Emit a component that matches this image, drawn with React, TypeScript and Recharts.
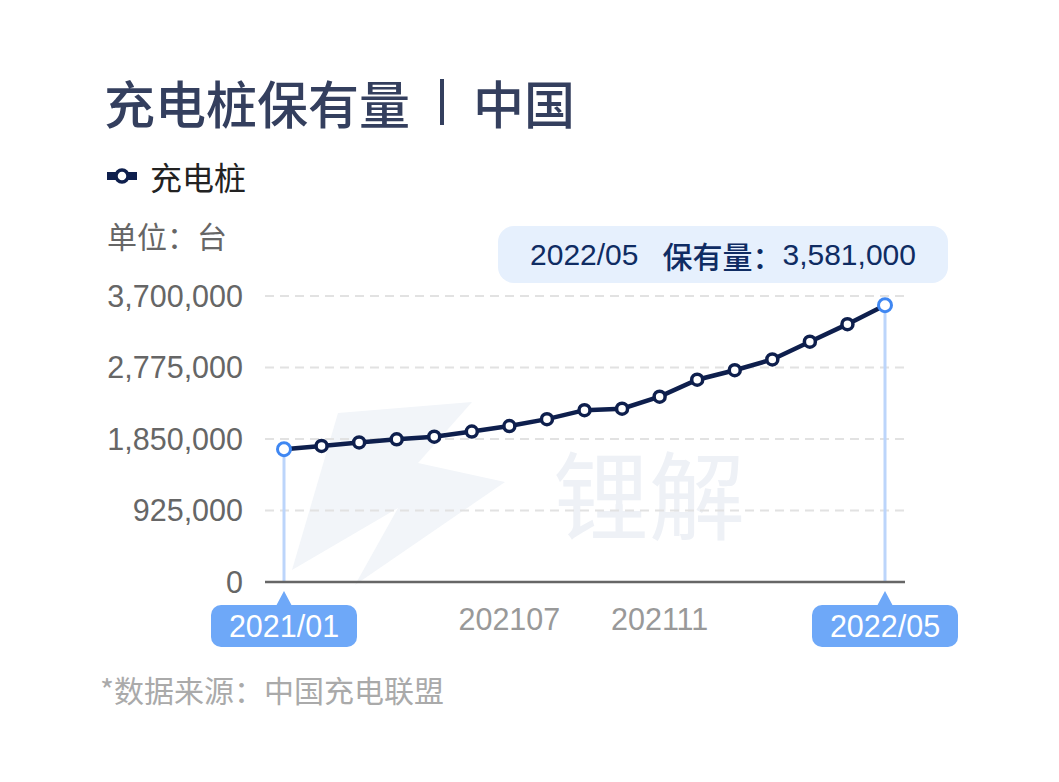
import React from 'react';
import { LineChart, Line, XAxis, YAxis, CartesianGrid, ReferenceLine } from 'recharts';

const months = [
  '2021/01', '2021/02', '2021/03', '2021/04', '2021/05', '2021/06', '2021/07', '2021/08', '2021/09',
  '2021/10', '2021/11', '2021/12', '2022/01', '2022/02', '2022/03', '2022/04', '2022/05',
];
const pileCounts = [
  1718000, 1760000, 1805000, 1846000, 1880000, 1947000, 2018000, 2107000, 2223000,
  2242000, 2398000, 2617000, 2740000, 2879000, 3109000, 3336000, 3581000,
];
const yTicks = [0, 925000, 1850000, 2775000, 3700000];
const plainTickLabels: Record<string, string> = { '2021/07': '202107', '2021/11': '202111' };
const badgeTicks = ['2021/01', '2022/05'];

const data = months.map((m, i) => ({ month: m, value: pileCounts[i] }));
const last = data[data.length - 1];
const first = data[0];

const FONT = '"Noto Sans CJK SC", "Noto Sans", sans-serif';
const NUM_FONT = '"Liberation Sans", "Noto Sans CJK SC", sans-serif';
const NAVY = '#0e1f4d';
const BLUE = '#3f87f2';
const BADGE = '#6ea8f8';

const fmt = (v: number) => v.toLocaleString('en-US');

const XTick = (props: any) => {
  const { x, y, payload } = props;
  const v = payload.value as string;
  if (badgeTicks.includes(v)) {
    const w = 146;
    return (
      <g>
        <path d={`M ${x - 8} ${y + 24} L ${x} ${y + 9} L ${x + 8} ${y + 24} Z`} fill={BADGE} />
        <rect x={x - w / 2} y={y + 23} width={w} height={42} rx={10} fill={BADGE} />
        <text x={x} y={y + 55} textAnchor="middle" fill="#fff" fontSize={30.5} fontFamily={NUM_FONT}>
          {v}
        </text>
      </g>
    );
  }
  if (plainTickLabels[v]) {
    return (
      <text x={x} y={y + 48} textAnchor="middle" fill="#999" fontSize={30.5} fontFamily={NUM_FONT}>
        {plainTickLabels[v]}
      </text>
    );
  }
  return null;
};

const Dot = (props: any) => {
  const { cx, cy, index } = props;
  const edge = index === 0 || index === data.length - 1;
  return (
    <circle
      key={index}
      cx={cx}
      cy={cy}
      r={edge ? 6.5 : 5.5}
      fill="#fff"
      stroke={edge ? BLUE : NAVY}
      strokeWidth={edge ? 3 : 3.5}
    />
  );
};

export default function App() {
  return (
    <div style={{ position: 'relative', width: 1059, height: 782, background: '#fff', fontFamily: FONT }}>
      <style>{'body{margin:0}'}</style>
      {/* watermark */}
      <svg width={1059} height={782} style={{ position: 'absolute', left: 0, top: 0 }}>
        <polygon points="292,570 338,413 472,402 418,463 505,482 355,585 398,508" fill="#f2f5f9" />
        <text x={553} y={532} fontSize={96} fontWeight={400} fill="#eef1f6" fontFamily={FONT}>
          锂解
        </text>
      </svg>
      <div
        style={{
          position: 'absolute', left: 104, top: 70, fontSize: 51, fontWeight: 500, color: '#343f5e',
          lineHeight: '64px', display: 'flex', alignItems: 'center', whiteSpace: 'nowrap',
        }}
      >
        <span>充电桩保有量</span>
        <span style={{ display: 'inline-block', width: 4, height: 46, background: '#343f5e', margin: '0 29px 0 30px' }} />
        <span>中国</span>
      </div>
      <div style={{ position: 'absolute', left: 107, top: 155, display: 'flex', alignItems: 'center' }}>
        <svg width={30} height={20}>
          <rect x={0} y={6} width={30} height={8} fill={NAVY} />
          <circle cx={15} cy={10} r={6} fill="#fff" stroke={NAVY} strokeWidth={3.5} />
        </svg>
        <span style={{ marginLeft: 13, fontSize: 32, color: '#222', lineHeight: '42px' }}>充电桩</span>
      </div>
      <div style={{ position: 'absolute', left: 107, top: 214, fontSize: 30, color: '#666', lineHeight: '42px' }}>
        单位：台
      </div>
      <div
        style={{
          position: 'absolute', left: 498, top: 226, width: 450, height: 57, borderRadius: 16,
          background: '#e6f0fd', color: '#0f2c63', fontSize: 30, display: 'flex', alignItems: 'center',
          justifyContent: 'center', fontFamily: NUM_FONT,
        }}
      >
        <span>{last.month}</span>
        <span style={{ marginLeft: 24, fontWeight: 500, fontFamily: FONT }}>保有量：</span>
        <span style={{ fontWeight: 500 }}>{fmt(last.value)}</span>
      </div>
      <div style={{ position: 'absolute', left: 0, top: 0 }}>
        <LineChart width={1059} height={782} data={data} margin={{ top: 296, right: 154, left: 0, bottom: 120 }}>
          <CartesianGrid vertical={false} stroke="#e2e2e2" strokeWidth={2} strokeDasharray="9 6" />
          <YAxis
            domain={[0, 3700000]}
            ticks={yTicks}
            width={265}
            axisLine={false}
            tickLine={false}
            tickSize={0}
            tickMargin={22}
            tickFormatter={fmt}
            tick={{ fill: '#666', fontSize: 30.5, fontFamily: NUM_FONT }}
          />
          <XAxis
            dataKey="month"
            height={80}
            padding={{ left: 19, right: 20 }}
            interval={0}
            axisLine={{ stroke: '#666', strokeWidth: 2.5 }}
            tickLine={false}
            tickSize={0}
            tickMargin={0}
            tick={<XTick />}
          />
          <ReferenceLine
            segment={[{ x: first.month, y: 0 }, { x: first.month, y: first.value }]}
            stroke="#bcd5fb"
            strokeWidth={3}
          />
          <ReferenceLine
            segment={[{ x: last.month, y: 0 }, { x: last.month, y: last.value }]}
            stroke="#bcd5fb"
            strokeWidth={3}
          />
          <Line
            type="linear"
            dataKey="value"
            stroke={NAVY}
            strokeWidth={4.5}
            dot={<Dot />}
            activeDot={false}
            isAnimationActive={false}
          />
        </LineChart>
      </div>
      <div style={{ position: 'absolute', left: 100, top: 668, fontSize: 30, color: '#aaa', lineHeight: '42px' }}>
        *数据来源：中国充电联盟
      </div>
    </div>
  );
}
